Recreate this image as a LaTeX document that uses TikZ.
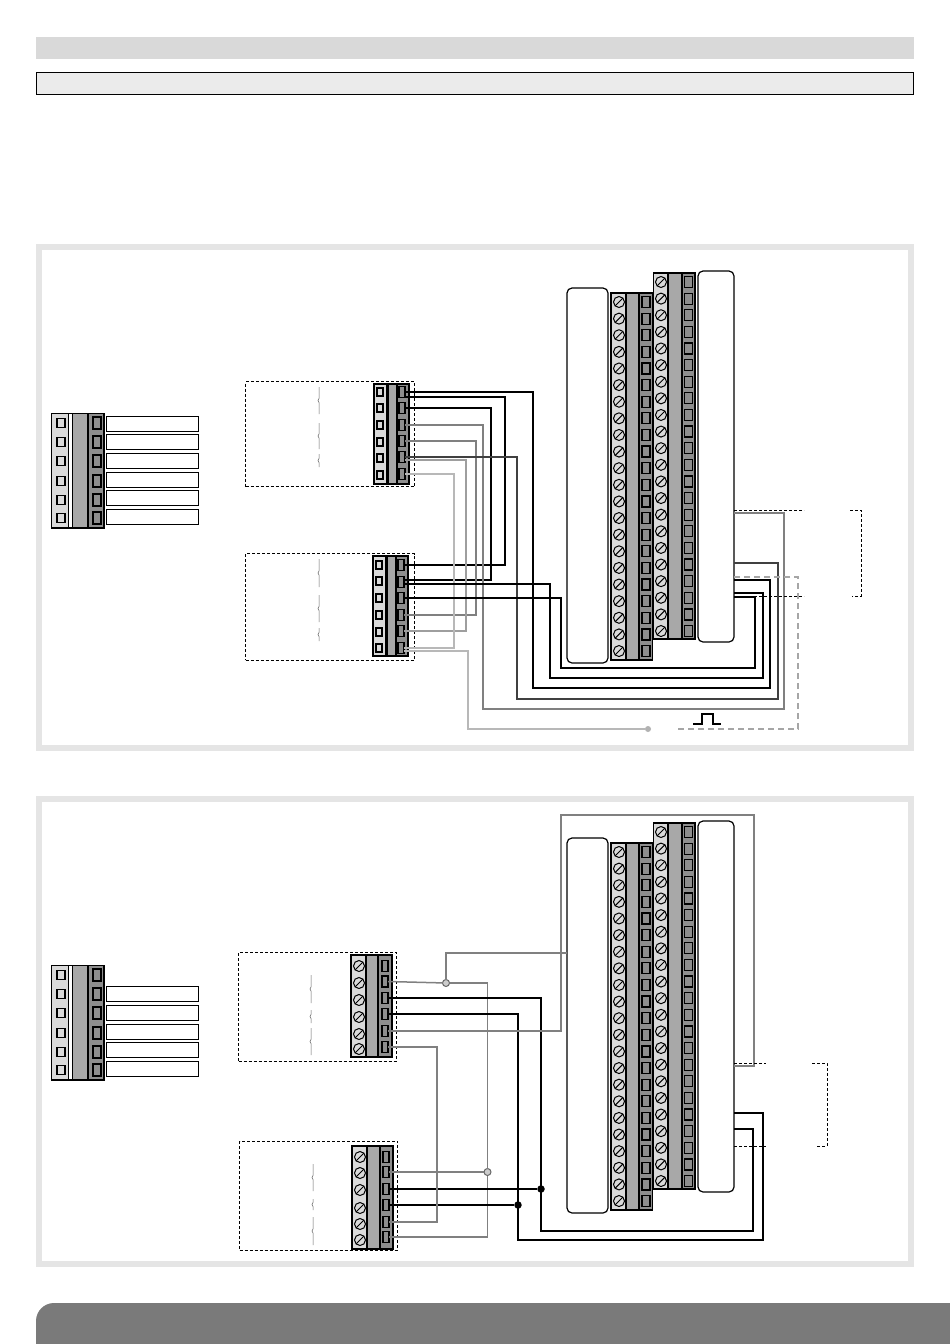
\documentclass[tikz,border=0pt]{standalone}
\usepackage{tikz}
\usepackage{xcolor}
\usetikzlibrary{calc}

\definecolor{blockLight}{HTML}{DADADA}
\definecolor{blockMid}{HTML}{A8A8A8}
\definecolor{blockDark}{HTML}{8E8E8E}

% box node from its two corners
\newcommand{\boxnode}[6][]{%
    \pgfmathsetmacro{\bw}{(#5)-(#3)}%
    \pgfmathsetmacro{\bh}{(#6)-(#4)}%
    \node[#1, minimum width=\bw pt, minimum height=\bh pt, anchor=north west] (#2) at (#3,#4) {};%
}
% terminal block: name, top, bottom, then x of light strip, mid strip and dark strip
\newcommand{\termblock}[8]{%
    \boxnode[strip, fill=blockLight]{#1light}{#4}{#2}{#5}{#3}%
    \boxnode[strip, fill=blockMid]{#1mid}{#6}{#2}{#7}{#3}%
    \boxnode[strip, fill=blockDark]{#1dark}{#7}{#2}{#8}{#3}%
}

\begin{document}
\begin{tikzpicture}[
        x=1pt, y=-1pt,
        every node/.style={inner sep=0pt, outer sep=0pt},
        strip/.style={rectangle, draw=black, line width=1.2pt},
        panel/.style={rectangle, draw=black!10, line width=6pt, fill=white},
        unit/.style={rectangle, draw=black, line width=1.2pt, fill=white, rounded corners=5pt},
        dashbox/.style={rectangle, draw=black, densely dashed, line width=0.7pt},
        tag/.style={rectangle, draw=black, line width=1pt, fill=white},
        frame/.style={rectangle, draw=black, line width=1.8pt},
        screw/.style={circle, draw=black, line width=1pt, fill=blockLight, minimum size=11pt,
            path picture={\draw[line width=1pt] (path picture bounding box.south west) -- (path picture bounding box.north east);}},
        pinL/.style={rectangle, draw=black, line width=1.1pt, fill=blockLight, minimum width=7pt, minimum height=8pt},
        pinR/.style={rectangle, draw=black, line width=1.2pt, fill=blockDark, minimum width=7pt, minimum height=11pt},
        wireblk/.style={draw=black, line width=1.6pt},
        wiredk/.style={draw=black!75, line width=1.4pt},
        wiregr/.style={draw=black!50, line width=1.5pt},
        wirelt/.style={draw=black!38, line width=1.4pt},
        wirepale/.style={draw=black!28, line width=1.4pt},
        wiredash/.style={draw=black!35, dashed, dash pattern=on 6pt off 4pt, line width=1.2pt},
        guide/.style={draw=black, densely dashed, line width=0.7pt},
        brace/.style={draw=black!60, line width=0.5pt},
        dotgr/.style={circle, draw=black!60, line width=1pt, fill=black!20, minimum size=7pt},
        dotblk/.style={circle, fill=black, minimum size=7.5pt}
    ]
    \useasboundingbox (0,0) rectangle (950,1344);

    % Header bars
    \boxnode[fill=black!15]{headA}{36}{37}{914}{59}
    \boxnode[draw=black, line width=1pt, fill=black!8]{headB}{36.5}{72.5}{913.5}{94.5}

    % Panels
    \boxnode[panel]{panelA}{39}{247}{911}{748}
    \boxnode[panel]{panelB}{39}{799}{911}{1264}

    % Footer bar
    \fill[black!52] (36,1344) {[rounded corners=18pt] -- (36,1303)} -- (950,1303) -- (950,1344) -- cycle;

    % Main units and their two long strips
    \foreach \pnl/\dy in {1/0, 2/550} {
        \boxnode[unit]{unitL\pnl}{567}{288+\dy}{608}{663+\dy}
        \boxnode[unit]{unitR\pnl}{698}{271+\dy}{734}{642+\dy}
        \termblock{lowS\pnl}{293+\dy}{660+\dy}{611}{626}{626}{639}{652.5}
        \termblock{upS\pnl}{273+\dy}{639+\dy}{653.5}{668}{668}{682}{695}
        \foreach \k in {0,...,21} {
            \pgfmathsetmacro{\ya}{302+\dy+16.62*\k}
            \pgfmathsetmacro{\yb}{282+\dy+16.62*\k}
            \node[screw] (lowS\pnl s\k) at (619,\ya) {};
            \node[pinR, minimum width=8pt] (lowS\pnl p\k) at (646,\ya) {};
            \node[screw] (upS\pnl s\k) at (661,\yb) {};
            \node[pinR, minimum width=8pt] (upS\pnl p\k) at (688.5,\yb) {};
        }
    }

    % Legend blocks with their tags
    \foreach \pnl/\dy in {1/0, 2/552} {
        \termblock{leg\pnl}{413.5+\dy}{528+\dy}{51.5}{68.5}{72.5}{88}{104}
        \boxnode[frame]{legFrame\pnl}{51.5}{413.5+\dy}{104}{528+\dy}
        \foreach \py [count=\i] in {423,442,461,481,500,518} {
            \node[pinL, minimum width=8pt, minimum height=9pt, line width=1.4pt] (leg\pnl l\i) at (61,\py+\dy) {};
            \node[pinR, minimum width=8pt, minimum height=12pt, line width=1.4pt] (leg\pnl r\i) at (97,\py+\dy) {};
        }
    }
    \foreach \ty [count=\i] in {416,434.5,453,472,490.5,509} {
        \boxnode[tag]{tagA\i}{106}{\ty}{198}{\ty+15}
    }
    \foreach \ty [count=\i] in {986,1005,1024,1042.5,1061} {
        \boxnode[tag]{tagB\i}{106}{\ty}{198}{\ty+15}
    }

    % Dashed boxes
    \boxnode[dashbox]{boxA}{245.5}{381.5}{414.5}{486.5}
    \boxnode[dashbox]{boxB}{245.5}{553.5}{414.5}{660}
    \boxnode[dashbox]{boxC}{238.5}{952}{396}{1061}
    \boxnode[dashbox]{boxD}{239.5}{1141}{397.5}{1250}

    % Small blocks in the top panel
    \termblock{blkA}{384}{484}{374}{386.5}{388}{397}{409}
    \foreach \py [count=\i] in {392,408,425,442,458,475} {
        \node[pinL, minimum width=6pt] (Al\i) at (380,\py) {};
    }
    \foreach \py [count=\i] in {392,408,425,441,457,474} {
        \node[pinR, minimum width=6pt] (Ar\i) at (402,\py) {};
    }
    \termblock{blkB}{556}{656}{373}{385.5}{387}{396}{408}
    \foreach \py [count=\i] in {565,581,598,615,632,648} {
        \node[pinL, minimum width=6pt] (Bl\i) at (379,\py) {};
    }
    \foreach \py [count=\i] in {565,582,598,615,631,648} {
        \node[pinR, minimum width=6pt] (Br\i) at (401,\py) {};
    }

    % Small blocks in the bottom panel
    \termblock{blkC}{955}{1057}{351}{366}{366}{378}{392}
    \foreach \sy/\py [count=\i] in {966/966,983/981.5,1000/998,1017/1014,1034/1031,1049/1047} {
        \node[screw] (Cs\i) at (359,\sy) {};
        \node[pinR, minimum width=6pt] (Cr\i) at (385,\py) {};
    }
    \termblock{blkD}{1146}{1249}{352}{367}{367}{380}{393}
    \foreach \sy/\py [count=\i] in {1157/1157,1173/1172,1190/1189,1208/1205,1224/1222,1240/1237} {
        \node[screw] (Ds\i) at (360,\sy) {};
        \node[pinR, minimum width=6pt] (Dr\i) at (386,\py) {};
    }

    % Thin braces
    \foreach \bx/\ya/\yb in {319/387/414, 319/423/449, 319/454/467, 319/559/587, 319/595/622, 319/628/641,
                             311/975/1003, 311/1010/1023, 311/1028/1055, 313/1164/1191, 313/1199/1210, 313/1217/1245} {
        \draw[brace] (\bx,\ya) -- (\bx,{(\ya+\yb)/2-2}) -- (\bx-1,{(\ya+\yb)/2}) -- (\bx,{(\ya+\yb)/2+2}) -- (\bx,\yb);
    }

    % Wires, top panel
    \node[dotgr, draw=none, fill=black!30, minimum size=6pt] (pulseDot) at (648,729) {};
    \coordinate (pulseOut) at (678,729);
    \draw[wireblk] (Ar1.east) -| (533,688) -| (770,580) -- (unitR1.east |- 0,580);
    \draw[wireblk] ([yshift=-5pt]Ar1.east) -| (505,565) -- (Br1.east);
    \draw[wireblk] (Ar2.east) -| (491,580) -- ([yshift=2pt]Br2.east);
    \draw[wiregr] (Ar3.east) -| (483,709) -| (784,513) -- (unitR1.east |- 0,513);
    \draw[wiregr] (Ar4.east) -| (476,615) -- (Br4.east);
    \draw[wiredk] (Ar5.east) -| (517,699) -| (778,563) -- (unitR1.east |- 0,563);
    \draw[wirelt] ([yshift=-3pt]Ar5.east) -| (466,631) -- (Br5.east);
    \draw[wirepale] (Ar6.east) -| (454,648) -- (Br6.east);
    \draw[wireblk] ([yshift=-2pt]Br2.east) -| (550,678) -| (763,593) -- (unitR1.east |- 0,593);
    \draw[wireblk, line width=1.3pt] (Br3.east) -| (561,668) -| (755,597) -- (unitR1.east |- 0,597);
    \draw[wirepale] ([yshift=-3pt]Br6.east) -| (468,729) -- (pulseDot);
    \draw[wiredash] (pulseOut) -| (798,577) -- (unitR1.east |- 0,577);

    % Pulse symbol
    \draw[line width=1.2pt] (693,724) -- (702,724) -- (702,714) -- (713,714) -- (713,724) -- (721,724);

    % Guides and bracket, top panel
    \draw[guide] (unitR1.east |- 0,510) -- (804,510);
    \draw[guide] (unitR1.east |- 0,596) -- (804,596);
    \draw[guide] (850,510) -- (861,510) -- (861,596) -- (852,596);

    % Wires, bottom panel
    \node[dotgr] (dotA) at (446,983) {};
    \node[dotgr] (dotB) at (487.5,1172) {};
    \node[dotblk] (dotC) at (541,1189) {};
    \node[dotblk] (dotD) at (518,1205) {};
    \draw[wiregr] (Cr2.east) -- (dotA);
    \draw[wiregr] (dotA) -| (dotB);
    \draw[wiregr] (dotA) |- (unitL2.west |- 0,953);
    \draw[wiregr, line width=1.2pt] (Dr2.east) -- (dotB);
    \draw[wiregr, line width=1.2pt] (Dr6.east) -| (dotB);
    \draw[wireblk] (Cr3.east) -| (541,1231) -| (753,1129) -- (unitR2.east |- 0,1129);
    \draw[wireblk] (Cr4.east) -| (518,1240) -| (763,1113) -- (unitR2.east |- 0,1113);
    \draw[wireblk] (Dr3.east) -- (dotC);
    \draw[wireblk] (Dr4.east) -- (dotD);
    \draw[wiregr] (Cr5.east) -| (561,815) -| (754,1066) -- (unitR2.east |- 0,1066);
    \draw[wiregr] (Cr6.east) -| (437,1222) -- (Dr5.east);

    % Guides and bracket, bottom panel
    \draw[guide] (unitR2.east |- 0,1063) -- (766,1063);
    \draw[guide] (unitR2.east |- 0,1146) -- (766,1146);
    \draw[guide] (812,1063) -- (827,1063) -- (827,1146) -- (816,1146);

\end{tikzpicture}
\end{document}
